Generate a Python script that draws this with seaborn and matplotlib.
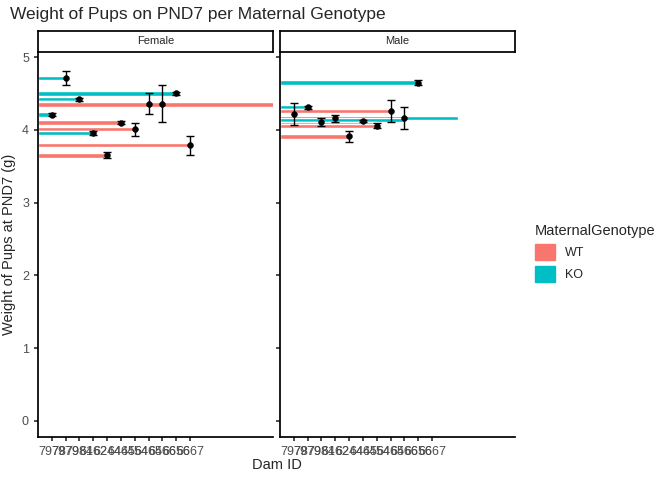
import numpy as np
import pandas as pd
import matplotlib
matplotlib.use("Agg")
import matplotlib.pyplot as plt
import seaborn as sns
from matplotlib.patches import Patch

sns.set_theme(style="ticks")
plt.rcParams["font.family"] = ["Liberation Sans", "DejaVu Sans"]

dam_ids = ["7978", "7979", "7984", "6162", "6244", "6445", "6454", "6464", "6566", "6656", "6667"]
colors = {"WT": "#F8766D", "KO": "#00BFC4"}

# mean points with SE per panel (x = dam tick position 1..11)
f_pos = [1, 2, 3, 4, 5, 6, 7, 8, 9, 10, 11]
f_mean = [4.21, 4.71, 4.42, 3.96, 3.65, 4.10, 4.01, 4.36, 4.36, 4.50, 3.79]
f_err = [0.02, 0.10, 0.02, 0.03, 0.04, 0.02, 0.09, 0.14, 0.25, 0.02, 0.13]

m_pos = [1, 2, 3, 4, 5, 6, 7, 8, 9, 10]
m_mean = [4.22, 4.31, 4.11, 4.16, 3.91, 4.12, 4.06, 4.26, 4.16, 4.65]
m_err = [0.15, 0.02, 0.05, 0.05, 0.08, 0.01, 0.03, 0.15, 0.15, 0.04]

# horizontal bars (height, length in x units, genotype)
f_bar_y = [4.71, 4.50, 4.42, 4.36, 4.35, 4.21, 4.10, 4.01, 3.96, 3.79, 3.65]
f_bar_len = [2, 10, 3, 9, 20, 1, 6, 7, 4, 11, 5]
f_bar_geno = ["KO", "KO", "KO", "KO", "WT", "KO", "WT", "WT", "KO", "WT", "WT"]

m_bar_y = [4.65, 4.31, 4.26, 4.16, 4.14, 4.08, 4.05, 3.91]
m_bar_len = [10, 2, 8, 12.9, 9, 7, 7, 5]
m_bar_geno = ["KO", "KO", "WT", "KO", "KO", "WT", "WT", "WT"]

fig = plt.figure(figsize=(6.72, 4.8), dpi=100)
W, H = 672, 480
panels = [
    ("Female", 38, f_pos, f_mean, f_err, f_bar_y, f_bar_len, f_bar_geno),
    ("Male", 280, m_pos, m_mean, m_err, m_bar_y, m_bar_len, m_bar_geno),
]
for i, (name, left, pos, mean, err, by, bl, bg) in enumerate(panels):
    ax = fig.add_axes([left / W, 1 - 437 / H, 235 / W, 385 / H])
    ax.barh(by, bl, height=0.06, left=0, color=[colors[g] for g in bg], zorder=1)
    ax.errorbar(pos, mean, yerr=err, fmt="none", ecolor="black", elinewidth=1, capsize=3, zorder=2)
    df = pd.DataFrame({"x": pos, "y": mean})
    sns.scatterplot(data=df, x="x", y="y", color="black", s=18, edgecolor=None, ax=ax, zorder=3)
    ax.set_xlim(0, 17)
    ax.set_ylim(-0.22, 5.07)
    ax.set_xticks(range(1, 12))
    ax.set_xticklabels(dam_ids, fontsize=9, color="#4D4D4D")
    ax.set_yticks(range(6))
    ax.tick_params(length=3, color="#333333")
    for s in ["top", "right"]:
        ax.spines[s].set_visible(False)
    for s in ["left", "bottom"]:
        ax.spines[s].set_color("black")
    ax.set_xlabel("")
    ax.set_ylabel("")
    if i == 0:
        ax.set_yticklabels([str(v) for v in range(6)], fontsize=9, color="#4D4D4D")
        ax.set_ylabel("Weight of Pups at PND7 (g)", fontsize=10.5)
    else:
        ax.set_yticklabels([])
    # facet strip
    sax = fig.add_axes([left / W, 1 - 52 / H, 235 / W, 21 / H])
    sax.set_xticks([])
    sax.set_yticks([])
    for s in sax.spines.values():
        s.set_color("black")
    sax.text(0.5, 0.5, name, ha="center", va="center", fontsize=8, transform=sax.transAxes)

fig.text(277 / W, 1 - 465 / H, "Dam ID", ha="center", va="center", fontsize=10.5)
fig.text(10 / W, 1 - 15 / H, "Weight of Pups on PND7 per Maternal Genotype", ha="left", va="center", fontsize=12.5)
handles = [Patch(color=colors["WT"], label="WT"), Patch(color=colors["KO"], label="KO")]
fig.legend(handles=handles, title="MaternalGenotype", loc="center left", bbox_to_anchor=(524 / W, 1 - 253 / H),
           frameon=False, fontsize=9, title_fontsize=10.5, handlelength=1.6, handleheight=1.6, alignment="left")
fig.savefig("out.png", dpi=100)
